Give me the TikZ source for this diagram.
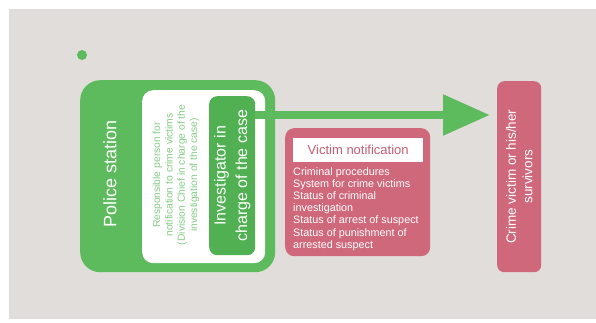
\documentclass[tikz,border=0pt]{standalone}
\usepackage{fontspec}
\setmainfont{Liberation Sans}
\usetikzlibrary{arrows.meta}
\definecolor{bgc}{HTML}{E0DDDA}
\definecolor{grn}{HTML}{5DBA5D}
\definecolor{dgrn}{HTML}{50B052}
\definecolor{lgrn}{HTML}{86CD86}
\definecolor{pnk}{HTML}{CF687A}
\definecolor{pnktxt}{HTML}{C45E75}
\tikzset{
  box/.style={inner sep=0pt, anchor=north west, rounded corners=#1},
  vtext/.style={rotate=90, align=center, inner sep=0pt},
}
\begin{document}
\begin{tikzpicture}[x=1pt,y=-1pt]
\useasboundingbox (0,0) rectangle (596,322);
\fill[bgc] (9,9) rectangle (596,319);
\node[circle, fill=grn, minimum size=10pt, inner sep=0pt] (dot) at (82,55) {};
% police station
\node[box=20pt, fill=grn, minimum width=195pt, minimum height=192pt] (ps) at (80,80) {};
\node[box=11pt, fill=white, minimum width=123pt, minimum height=173pt] (wh) at (142,90) {};
\node[box=8pt, fill=dgrn, minimum width=46pt, minimum height=159pt] (inv) at (209,96) {};
\node[vtext, text=white, font=\fontsize{18}{21}\selectfont] (pst) at (110,174) {Police station};
\node[vtext, text=lgrn, font=\fontsize{10.3}{12.3}\selectfont] (resp) at (176,175)
  {Responsible person for\\notification to crime victims\\(Division Chief in charge of the\\investigation of the case)};
\node[vtext, text=white, font=\fontsize{16}{21.5}\selectfont] (invt) at (inv.center)
  {Investigator in\\charge of the case};
% crime victim
\node[box=7pt, fill=pnk, minimum width=44pt, minimum height=191pt] (cv) at (497,81) {};
\node[vtext, text=white, font=\fontsize{13.5}{16.5}\selectfont] (cvt) at (cv.center)
  {Crime victim or his/her\\survivors};
% arrow
\draw[grn, line width=8.5pt, -{Triangle[length=47pt,width=39pt]}]
  (inv.east |- 0,115) -- ([xshift=-7pt]cv.west |- 0,115);
% victim notification
\node[box=9pt, fill=pnk, minimum width=145pt, minimum height=128pt] (vn) at (285,128) {};
\node[inner sep=0pt, anchor=north west, fill=white, minimum width=130pt, minimum height=24pt] (hdr) at (293,138) {};
\node[text=pnktxt, font=\fontsize{13}{15}\selectfont] (hdrt) at (hdr.center) {Victim notification};
\node[inner sep=0pt, anchor=north west, align=left, text=white, font=\fontsize{10.8}{12.2}\selectfont] (lst) at (293,167)
  {Criminal procedures\\System for crime victims\\Status of criminal\\investigation\\Status of arrest of suspect\\Status of punishment of\\arrested suspect};
\end{tikzpicture}
\end{document}
